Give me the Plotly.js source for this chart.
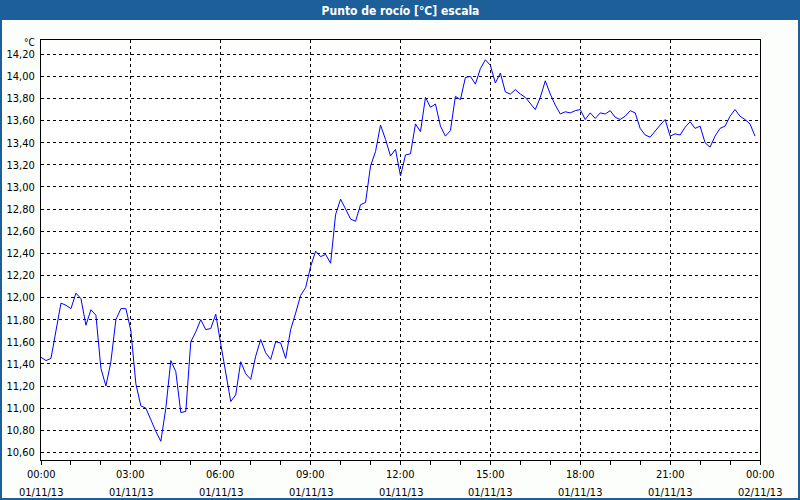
<!DOCTYPE html>
<html>
<head>
<meta charset="utf-8">
<script src="https://cdn.plot.ly/plotly-3.0.1.min.js"></script>
<style>
html,body{margin:0;padding:0;background:#fcfefc;}
#chart{width:800px;height:500px;}
</style>
</head>
<body>
<div id="chart"></div>
<script>
// Sample times (01/11/13), every reading shown in the picture
const times = [
"00:00","00:10","00:20","00:30","00:40","00:50","01:00","01:10","01:20","01:30","01:40","01:50",
"02:00","02:10","02:20","02:30","02:40","02:50","03:00","03:10","03:20","03:30","03:40","03:50",
"04:00","04:10","04:20","04:30","04:40","04:50","05:00","05:10","05:20","05:30","05:40","05:50",
"06:00","06:10","06:20","06:30","06:40","06:50","07:00","07:10","07:20","07:30","07:40","07:50",
"08:00","08:10","08:20","08:30","08:40","08:50","09:00","09:10","09:20","09:30","09:40","09:50",
"10:00","10:10","10:20","10:30","10:40","10:50","11:00","11:10","11:20","11:30","11:40","11:50",
"12:00","12:10","12:20","12:30","12:40","12:50","13:00","13:10","13:20","13:30","13:40","13:50",
"14:00","14:10","14:20","14:30","14:40","14:50","15:00","15:10","15:20","15:30","15:40","15:50",
"16:00","16:10","16:20","16:30","16:40","16:50","17:00","17:10","17:20","17:30","17:40","17:50",
"18:00","18:10","18:20","18:30","18:40","18:50","19:00","19:10","19:20","19:30","19:40","19:50",
"20:00","20:10","20:20","20:30","20:40","20:50","21:00","21:10","21:20","21:30","21:40","21:50",
"22:00","22:10","22:20","22:30","22:40","22:50","23:00","23:10","23:20","23:30","23:40","23:50"
];
// Dew point values [°C]
const dewPoint = [
11.46,11.43,11.45,11.70,11.95,11.93,11.90,12.04,11.99,11.75,11.89,11.84,
11.36,11.20,11.42,11.80,11.90,11.90,11.70,11.22,11.02,11.00,10.89,10.79,
10.70,11.00,11.43,11.33,10.96,10.97,11.60,11.69,11.80,11.71,11.72,11.85,
11.58,11.32,11.06,11.12,11.42,11.31,11.26,11.47,11.62,11.50,11.44,11.60,
11.59,11.45,11.71,11.86,12.02,12.09,12.28,12.42,12.37,12.39,12.31,12.75,
12.89,12.80,12.71,12.69,12.84,12.86,13.19,13.32,13.56,13.43,13.28,13.34,
13.10,13.29,13.30,13.57,13.50,13.81,13.72,13.75,13.55,13.46,13.51,13.82,
13.79,13.99,14.00,13.93,14.07,14.15,14.10,13.94,14.03,13.86,13.84,13.88,
13.84,13.81,13.75,13.70,13.81,13.96,13.84,13.74,13.66,13.68,13.67,13.69,
13.70,13.61,13.67,13.62,13.67,13.66,13.69,13.63,13.61,13.64,13.69,13.67,
13.53,13.47,13.45,13.50,13.56,13.61,13.46,13.48,13.47,13.54,13.59,13.53,
13.55,13.40,13.36,13.46,13.53,13.55,13.64,13.70,13.64,13.61,13.57,13.46
];
const tickTimes = ["2013-11-01 00:00","2013-11-01 03:00","2013-11-01 06:00","2013-11-01 09:00","2013-11-01 12:00","2013-11-01 15:00","2013-11-01 18:00","2013-11-01 21:00","2013-11-02 00:00"];
const tickHours = ["00:00","03:00","06:00","09:00","12:00","15:00","18:00","21:00","00:00"];
const tickDates = ["01/11/13","01/11/13","01/11/13","01/11/13","01/11/13","01/11/13","01/11/13","01/11/13","02/11/13"];
const titleText = "Punto de rocío [°C] escala";
const unitText = "°C";

const x = times.map(t => "2013-11-01 " + t);
const FONT = "DejaVu Sans Condensed, DejaVu Sans, sans-serif";
const BLUE = "#1d5f98";

const W = 800, H = 500, L = 41, R = 40, T = 40, B = 40;
const pw = W - L - R, ph = H - T - B;
const px = v => (v - L) / pw;          // pixel x -> paper x
const py = v => (H - B - v) / ph;      // pixel y -> paper y

const annotations = [];
tickTimes.forEach((t, i) => {
  annotations.push({
    x: t, xref: "x", y: py(474), yref: "paper",
    text: tickHours[i], showarrow: false, xanchor: "center", yanchor: "middle",
    font: {family: FONT, size: 11, color: "#000"}
  });
  annotations.push({
    x: t, xref: "x", y: py(492), yref: "paper",
    text: tickDates[i], showarrow: false, xanchor: "center", yanchor: "middle",
    font: {family: FONT, size: 11, color: "#000"}
  });
});
annotations.push({
  x: px(37), xref: "paper", y: py(43), yref: "paper",
  text: unitText, showarrow: false, xanchor: "right", yanchor: "middle",
  font: {family: FONT, size: 10, color: "#000"}
});

const layout = {
  width: W, height: H,
  margin: {l: L, r: R, t: T, b: B, pad: 0},
  paper_bgcolor: "#fcfefc",
  plot_bgcolor: "#ffffff",
  separators: ",.",
  showlegend: false,
  title: {
    text: titleText, x: 0.5, xanchor: "center", xref: "paper",
    y: 1 - 10.5 / H, yanchor: "middle", yref: "container",
    font: {family: FONT, size: 12, color: "#ffffff", weight: "bold"}
  },
  xaxis: {
    type: "date",
    range: ["2013-11-01 00:00", "2013-11-02 00:00"],
    tickmode: "array", tickvals: tickTimes, showticklabels: false,
    ticks: "outside", ticklen: 4, tickcolor: "#000", tickwidth: 1,
    minor: {dtick: 3600000, tick0: "2013-11-01 00:00", ticks: "outside", ticklen: 4, tickcolor: "#000", showgrid: false},
    showgrid: true, gridcolor: "#000", gridwidth: 1, griddash: "3px,3px",
    showline: true, linecolor: "#000", linewidth: 1, mirror: true,
    zeroline: false,
    fixedrange: true
  },
  yaxis: {
    range: [10.531, 14.329],
    tickmode: "linear", tick0: 10.6, dtick: 0.2, tickformat: ".2f",
    ticks: "",
    showgrid: true, gridcolor: "#000", gridwidth: 1, griddash: "3px,3px",
    showline: true, linecolor: "#000", linewidth: 1, mirror: true,
    zeroline: false,
    tickfont: {family: FONT, size: 11, color: "#000"},
    ticklabelstandoff: 3,
    fixedrange: true
  },
  shapes: [
    {type: "rect", xref: "paper", yref: "paper", x0: px(0), x1: px(800), y0: py(20), y1: py(0),
     fillcolor: BLUE, line: {width: 0}, layer: "below"},
    {type: "rect", xref: "paper", yref: "paper", x0: px(1), x1: px(799), y0: py(499), y1: py(10),
     fillcolor: "rgba(0,0,0,0)", line: {color: BLUE, width: 2}, layer: "above"}
  ],
  annotations: annotations
};

const data = [{
  type: "scatter", mode: "lines",
  x: x, y: dewPoint,
  line: {color: "#0000ff", width: 1},
  hoverinfo: "skip"
}];

Plotly.newPlot("chart", data, layout, {staticPlot: true, displayModeBar: false});
</script>
</body>
</html>
